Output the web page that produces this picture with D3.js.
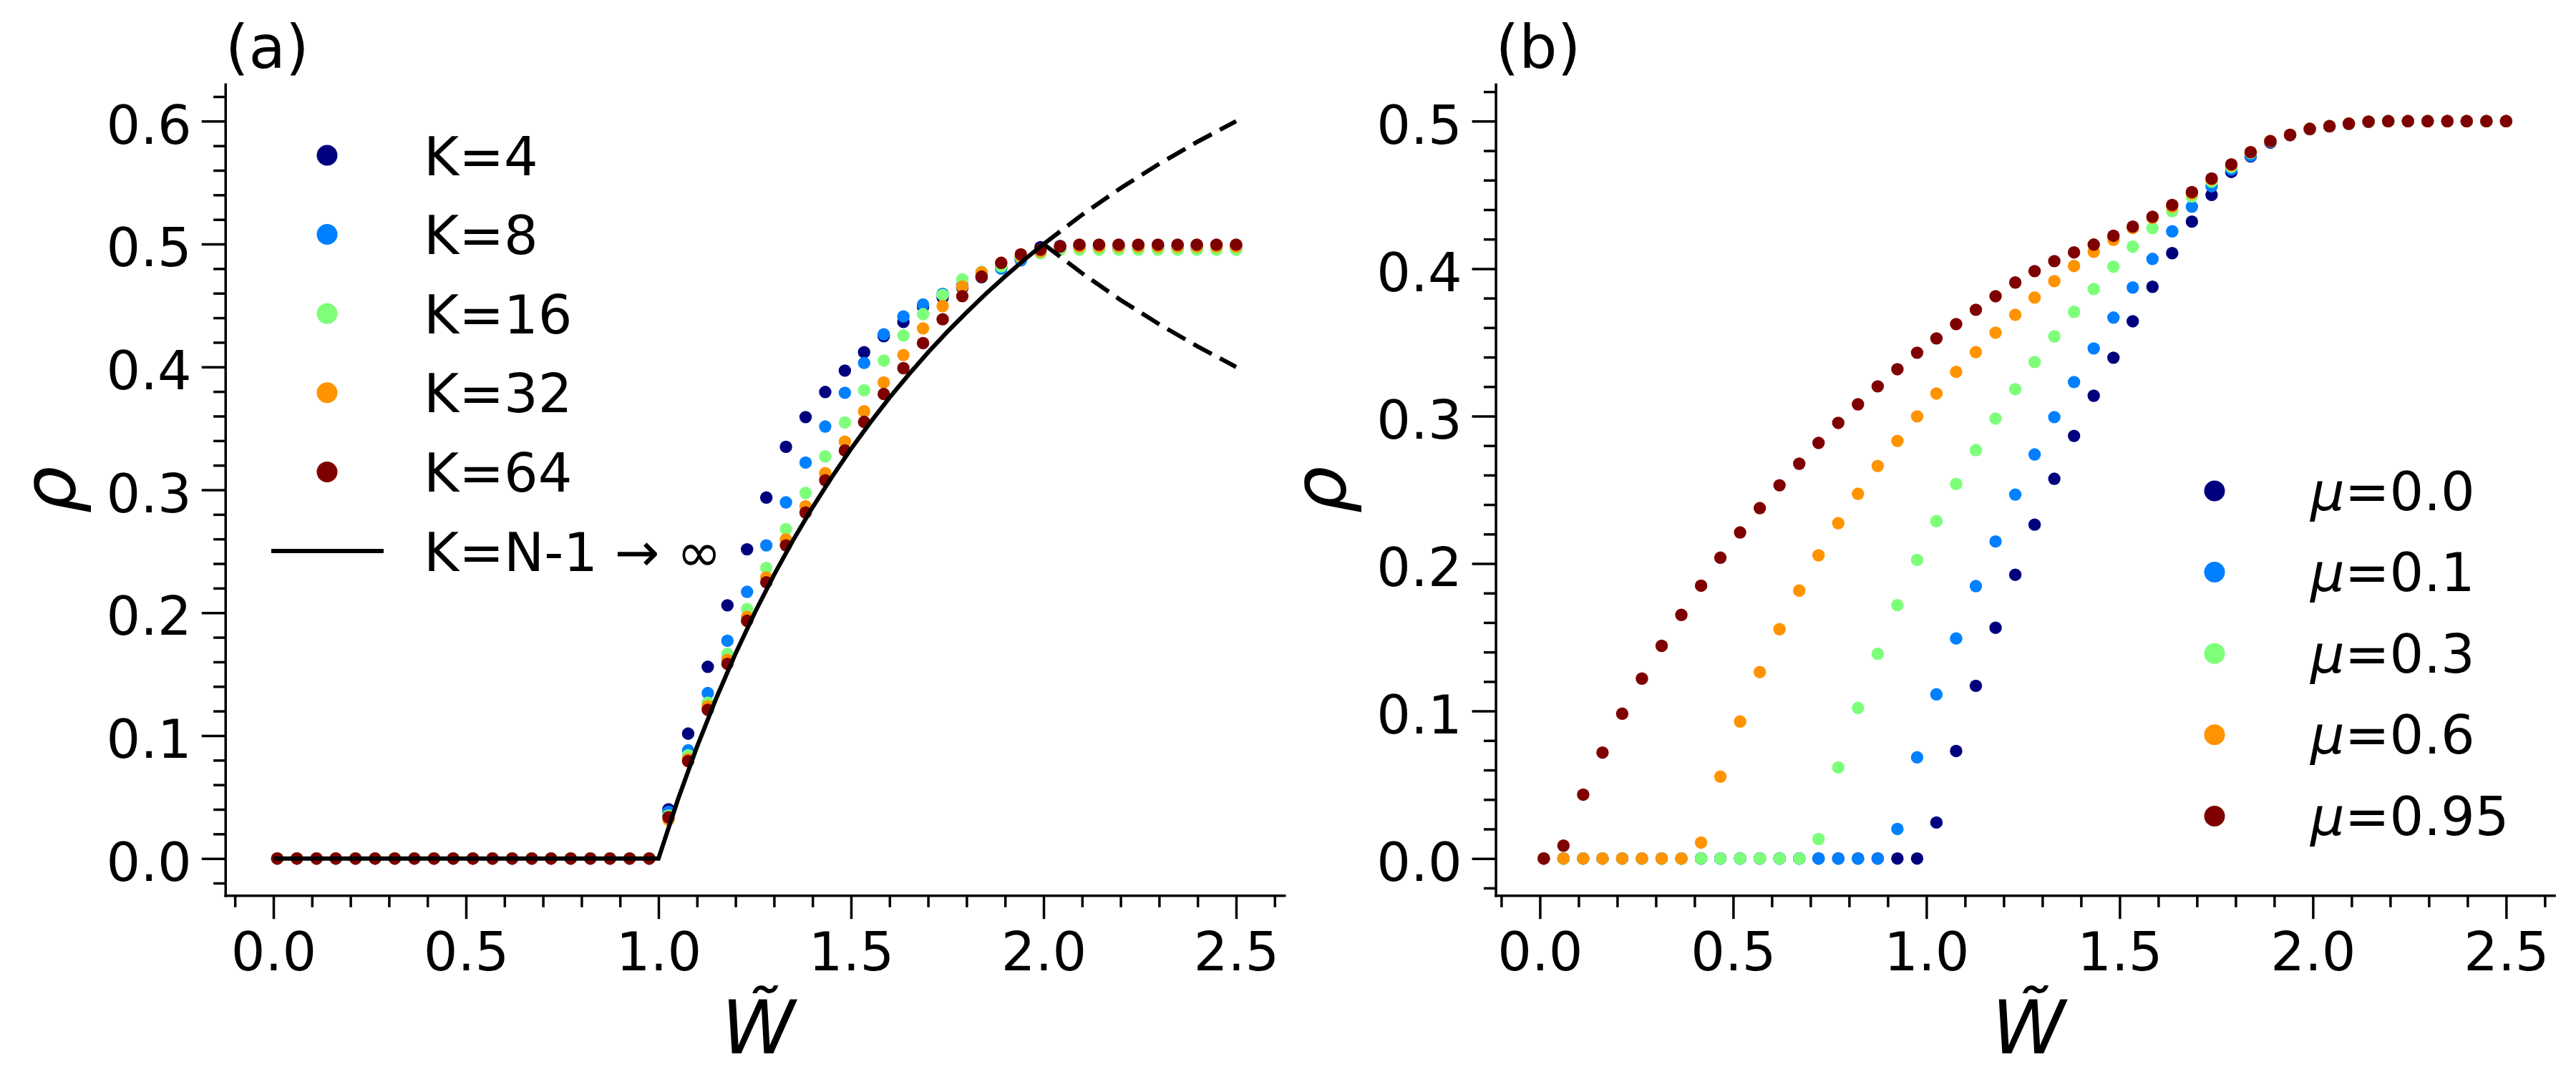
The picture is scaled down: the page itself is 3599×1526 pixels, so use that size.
<!DOCTYPE html>
<html>
<head>
<meta charset="utf-8">
<script src="https://cdn.jsdelivr.net/npm/d3@7"></script>
<style>
  html, body { margin: 0; padding: 0; background: #ffffff; }
  svg { display: block; }
  text { font-family: "DejaVu Sans", sans-serif; }
</style>
</head>
<body>
<svg id="chart" width="3599" height="1526"></svg>
<script>
// ---------------- DATA ----------------
// W~ sample points (shared by both panels)
const W_VALUES = [0.010, 0.061, 0.112, 0.162, 0.213, 0.264, 0.315, 0.366, 0.417, 0.467,
  0.518, 0.569, 0.620, 0.671, 0.721, 0.772, 0.823, 0.874, 0.925, 0.976,
  1.026, 1.077, 1.128, 1.179, 1.230, 1.280, 1.331, 1.382, 1.433, 1.484,
  1.534, 1.585, 1.636, 1.687, 1.738, 1.789, 1.839, 1.890, 1.941, 1.992,
  2.043, 2.093, 2.144, 2.195, 2.246, 2.297, 2.348, 2.398, 2.449, 2.500];

// Panel (a): rho for different K
const RHO_K4 = [0,0,0,0,0,0,0,0,0,0, 0,0,0,0,0,0,0,0,0,0,
  0.040, 0.1016, 0.156, 0.206, 0.2516, 0.2937, 0.335, 0.3592, 0.3796, 0.397,
  0.412, 0.425, 0.4367, 0.4489, 0.4566, 0.4644, 0.4731, 0.481, 0.488, 0.4974,
  0.4985, 0.4985, 0.4985, 0.4985, 0.4985, 0.4985, 0.4985, 0.4985, 0.4985, 0.4985];
const RHO_K8 = [0,0,0,0,0,0,0,0,0,0, 0,0,0,0,0,0,0,0,0,0,
  0.038, 0.088, 0.1346, 0.1772, 0.217, 0.2548, 0.2898, 0.3222, 0.3515, 0.379,
  0.4033, 0.4266, 0.4411, 0.4508, 0.4595, 0.4663, 0.475, 0.480, 0.4867, 0.494,
  0.496, 0.496, 0.496, 0.496, 0.496, 0.496, 0.496, 0.496, 0.496, 0.496];
const RHO_K16 = [0,0,0,0,0,0,0,0,0,0, 0,0,0,0,0,0,0,0,0,0,
  0.035, 0.084, 0.1268, 0.1666, 0.203, 0.2364, 0.268, 0.2975, 0.3272, 0.3548,
  0.381, 0.4052, 0.4256, 0.443, 0.4586, 0.4712, 0.4774, 0.4818, 0.489, 0.4925,
  0.4955, 0.4955, 0.4955, 0.4955, 0.4955, 0.4955, 0.4955, 0.4955, 0.4955, 0.4955];
const RHO_K32 = [0,0,0,0,0,0,0,0,0,0, 0,0,0,0,0,0,0,0,0,0,
  0.0317, 0.081, 0.1239, 0.1617, 0.1966, 0.2287, 0.2597, 0.2866, 0.3136, 0.3392,
  0.3639, 0.3874, 0.4097, 0.4314, 0.4495, 0.4654, 0.477, 0.4847, 0.490, 0.494,
  0.498, 0.498, 0.498, 0.498, 0.498, 0.498, 0.498, 0.498, 0.498, 0.498];
const RHO_K64 = [0,0,0,0,0,0,0,0,0,0, 0,0,0,0,0,0,0,0,0,0,
  0.0336, 0.0793, 0.121, 0.1584, 0.1934, 0.2248, 0.2548, 0.2815, 0.3078, 0.332,
  0.3553, 0.378, 0.399, 0.4194, 0.4388, 0.4576, 0.4735, 0.4847, 0.4916, 0.4955,
  0.498, 0.4995, 0.4995, 0.4995, 0.4995, 0.4995, 0.4995, 0.4995, 0.4995, 0.4995];
const K_LABELS = ["K=4", "K=8", "K=16", "K=32", "K=64"];

// Panel (a): K = N-1 -> infinity curve (solid) and its two continuations (dashed)
const THEORY_W   = [0.0, 1.00, 1.05, 1.10, 1.15, 1.20, 1.25, 1.30, 1.35, 1.40, 1.45, 1.50,
  1.55, 1.60, 1.65, 1.70, 1.75, 1.80, 1.85, 1.90, 1.95, 2.00];
const THEORY_RHO = [0.0, 0.0, 0.0476, 0.0909, 0.1304, 0.1667, 0.2000, 0.2308, 0.2593, 0.2857, 0.3103, 0.3333,
  0.3548, 0.3750, 0.3939, 0.4118, 0.4286, 0.4444, 0.4595, 0.4737, 0.4872, 0.5000];
const BRANCH_W     = [2.00, 2.10, 2.20, 2.30, 2.40, 2.50];
const BRANCH_UPPER = [0.5000, 0.5238, 0.5455, 0.5652, 0.5833, 0.6000];
const BRANCH_LOWER = [0.5000, 0.4762, 0.4545, 0.4348, 0.4167, 0.4000];
const THEORY_LABEL = "K=N-1 \u2192 \u221E";

// Panel (b): rho for different mu
const RHO_MU000 = [0,0,0,0,0,0,0,0,0,0, 0,0,0,0,0,0,0,0,0,0,
  0.0244, 0.0729, 0.1171, 0.1565, 0.1924, 0.2264, 0.2575, 0.2866, 0.3138, 0.3396,
  0.3643, 0.3877, 0.4105, 0.4319, 0.450, 0.4656, 0.4761, 0.4855, 0.4905, 0.4945,
  0.4965, 0.4982, 0.4995, 0.5, 0.5, 0.5, 0.5, 0.5, 0.5, 0.5];
const RHO_MU010 = [0,0,0,0,0,0,0,0,0,0, 0,0,0,0,0,0,0,0, 0.020, 0.0686,
  0.1113, 0.1492, 0.1847, 0.215, 0.2468, 0.274, 0.2993, 0.3231, 0.3459, 0.3668,
  0.3872, 0.4066, 0.4253, 0.442, 0.4559, 0.4672, 0.4766, 0.486, 0.4906, 0.4946,
  0.4965, 0.4982, 0.4995, 0.5, 0.5, 0.5, 0.5, 0.5, 0.5, 0.5];
const RHO_MU030 = [0,0,0,0,0,0,0,0,0,0, 0,0,0,0, 0.0132, 0.0618, 0.1021, 0.1388, 0.1718, 0.2025,
  0.2288, 0.254, 0.2769, 0.2983, 0.3182, 0.3367, 0.3541, 0.3707, 0.3862, 0.4013,
  0.4149, 0.4274, 0.439, 0.4489, 0.459, 0.469, 0.4785, 0.4863, 0.4907, 0.4948,
  0.4966, 0.4983, 0.4996, 0.5, 0.5, 0.5, 0.5, 0.5, 0.5, 0.5];
const RHO_MU060 = [0,0,0,0,0,0,0,0, 0.0108, 0.0555, 0.0929, 0.1264, 0.1555, 0.1817, 0.2056, 0.2274, 0.2473, 0.2662, 0.2832, 0.2998,
  0.3153, 0.330, 0.3434, 0.3566, 0.3687, 0.3804, 0.3915, 0.4018, 0.4114, 0.4196,
  0.4276, 0.4345, 0.442, 0.451, 0.4605, 0.4702, 0.479, 0.4865, 0.4907, 0.4948,
  0.4966, 0.4983, 0.4997, 0.5, 0.5, 0.5, 0.5, 0.5, 0.5, 0.5];
const RHO_MU095 = [0, 0.0087, 0.0433, 0.0718, 0.0982, 0.122, 0.1442, 0.1652, 0.185, 0.204,
  0.2211, 0.2376, 0.2531, 0.2677, 0.2818, 0.2954, 0.308, 0.3202, 0.3318, 0.343,
  0.3527, 0.3624, 0.3721, 0.3813, 0.3906, 0.3983, 0.4051, 0.411, 0.4163, 0.4223,
  0.4285, 0.4352, 0.4432, 0.4519, 0.4611, 0.4707, 0.479, 0.4865, 0.4907, 0.4948,
  0.4966, 0.4983, 0.4997, 0.5, 0.5, 0.5, 0.5, 0.5, 0.5, 0.5];
const MU_VALUES = ["0.0", "0.1", "0.3", "0.6", "0.95"];

// Tick labels
const X_TICKS   = [0.0, 0.5, 1.0, 1.5, 2.0, 2.5];
const Y_TICKS_A = [0.0, 0.1, 0.2, 0.3, 0.4, 0.5, 0.6];
const Y_TICKS_B = [0.0, 0.1, 0.2, 0.3, 0.4, 0.5];

// ---------------- STYLE ----------------
const JET = ["#00007f", "#0080ff", "#7dff7a", "#ff9400", "#7f0000"];
const TICK_FONT = 75, LABEL_FONT = 104, TITLE_FONT = 84, LEGEND_FONT = 75;
const MAJOR = 33, MINOR = 16.6, LW = 3.5, CURVE_W = 6;
const TOP = 117.8, BOTTOM = 1251.2;
const R_DATA = 8.7, R_LEG = 14.5;

const svg = d3.select("#chart");
svg.append("rect").attr("width", 3599).attr("height", 1526).attr("fill", "#fff");

function panel(opt) {
  const x = d3.scaleLinear().domain(opt.xDomain).range([opt.left, opt.right]);
  const y = d3.scaleLinear().domain(opt.yDomain).range([BOTTOM, TOP]);
  const g = svg.append("g");

  // minor ticks
  const xMinor = d3.range(-1, 27).map(v => v / 10).filter(v => Math.abs(v * 2 - Math.round(v * 2)) > 1e-6)
    .filter(v => v >= opt.xDomain[0] && v <= opt.xDomain[1]);
  const yMinor = d3.range(-5, 70).map(v => v / 50).filter(v => Math.abs(v * 10 - Math.round(v * 10)) > 1e-6)
    .filter(v => v >= opt.yDomain[0] && v <= opt.yDomain[1]);

  const gxm = g.append("g").attr("transform", `translate(0,${BOTTOM})`)
    .call(d3.axisBottom(x).tickValues(xMinor).tickFormat("").tickSize(MINOR).tickSizeOuter(0));
  gxm.select(".domain").remove();
  const gym = g.append("g").attr("transform", `translate(${opt.left},0)`)
    .call(d3.axisLeft(y).tickValues(yMinor).tickFormat("").tickSize(MINOR).tickSizeOuter(0));
  gym.select(".domain").remove();

  const gx = g.append("g").attr("transform", `translate(0,${BOTTOM})`)
    .call(d3.axisBottom(x).tickValues(X_TICKS).tickFormat(d3.format(".1f")).tickSize(MAJOR).tickSizeOuter(0).tickPadding(19));
  const gy = g.append("g").attr("transform", `translate(${opt.left},0)`)
    .call(d3.axisLeft(y).tickValues(opt.yTicks).tickFormat(d3.format(".1f")).tickSize(MAJOR).tickSizeOuter(0).tickPadding(14));

  g.selectAll(".tick line").attr("stroke", "#000").attr("stroke-width", LW);
  [gx, gy].forEach(a => a.select(".domain").attr("stroke", "#000").attr("stroke-width", LW).attr("stroke-linecap", "square"));
  g.selectAll(".tick text").attr("font-family", "DejaVu Sans").attr("font-size", TICK_FONT).attr("fill", "#000");
  gy.selectAll(".tick text").attr("dy", "0.41em");
  gx.selectAll(".tick text").attr("dy", "0.71em");
  gx.attr("font-family", "DejaVu Sans"); gy.attr("font-family", "DejaVu Sans");

  // title
  g.append("text").attr("x", opt.left).attr("y", 95).attr("font-size", TITLE_FONT).text(opt.title);

  // y label
  g.append("text").attr("transform", `translate(${opt.left - 210},${(TOP + BOTTOM) / 2}) rotate(-90)`)
    .attr("text-anchor", "middle").attr("font-size", LABEL_FONT).attr("font-style", "italic").text("\u03C1");

  // x label: W with combining tilde accent
  const cx = (opt.left + opt.right) / 2;
  g.append("text").attr("x", cx + 5).attr("y", 1472).attr("text-anchor", "middle")
    .attr("font-size", LABEL_FONT).attr("font-style", "italic").text("W\u0303");

  return { g, x, y };
}

// ---------- Panel (a) ----------
const A = panel({ left: 314.75, right: 1794.25, xDomain: [-0.125, 2.625], yDomain: [-0.03, 0.63], yTicks: Y_TICKS_A, title: "(a)" });
const seriesA = [RHO_K4, RHO_K8, RHO_K16, RHO_K32, RHO_K64];
seriesA.forEach((vals, k) => {
  A.g.append("g").selectAll("circle").data(vals.map((v, i) => [W_VALUES[i], v])).join("circle")
    .attr("cx", d => A.x(d[0])).attr("cy", d => A.y(d[1])).attr("r", R_DATA).attr("fill", JET[k]);
});
const lineA = d3.line().x(d => A.x(d[0])).y(d => A.y(d[1]));
A.g.append("path").attr("d", lineA(THEORY_W.map((w, i) => [w, THEORY_RHO[i]])))
  .attr("fill", "none").attr("stroke", "#000").attr("stroke-width", CURVE_W).attr("stroke-linejoin", "miter");
[BRANCH_UPPER, BRANCH_LOWER].forEach(br => {
  A.g.append("path").attr("d", lineA(BRANCH_W.map((w, i) => [w, br[i]])))
    .attr("fill", "none").attr("stroke", "#000").attr("stroke-width", CURVE_W).attr("stroke-dasharray", "29,13");
});
// legend (a)
const legA = A.g.append("g");
K_LABELS.forEach((lab, k) => {
  const yy = 217 + k * 110.6;
  legA.append("circle").attr("cx", 457).attr("cy", yy).attr("r", R_LEG).attr("fill", JET[k]);
  legA.append("text").attr("x", 592).attr("y", yy + 27.5).attr("font-size", LEGEND_FONT).text(lab);
});
{
  const yy = 217 + 5 * 110.6;
  legA.append("line").attr("x1", 379).attr("x2", 536).attr("y1", yy).attr("y2", yy).attr("stroke", "#000").attr("stroke-width", CURVE_W);
  legA.append("text").attr("x", 592).attr("y", yy + 27.5).attr("font-size", LEGEND_FONT).text(THEORY_LABEL);
}

// ---------- Panel (b) ----------
const B = panel({ left: 2089.6, right: 3568.6, xDomain: [-0.1145, 2.6245], yDomain: [-0.025, 0.525], yTicks: Y_TICKS_B, title: "(b)" });
const seriesB = [RHO_MU000, RHO_MU010, RHO_MU030, RHO_MU060, RHO_MU095];
seriesB.forEach((vals, k) => {
  B.g.append("g").selectAll("circle").data(vals.map((v, i) => [W_VALUES[i], v])).join("circle")
    .attr("cx", d => B.x(d[0])).attr("cy", d => B.y(d[1])).attr("r", R_DATA).attr("fill", JET[k]);
});
const legB = B.g.append("g");
MU_VALUES.forEach((mu, k) => {
  const yy = 686 + k * 113.6;
  legB.append("circle").attr("cx", 3094).attr("cy", yy).attr("r", R_LEG).attr("fill", JET[k]);
  const t = legB.append("text").attr("x", 3228).attr("y", yy + 26.5).attr("font-size", LEGEND_FONT);
  t.append("tspan").attr("font-style", "italic").text("\u03BC");
  t.append("tspan").text("=" + mu);
});
</script>
</body>
</html>
